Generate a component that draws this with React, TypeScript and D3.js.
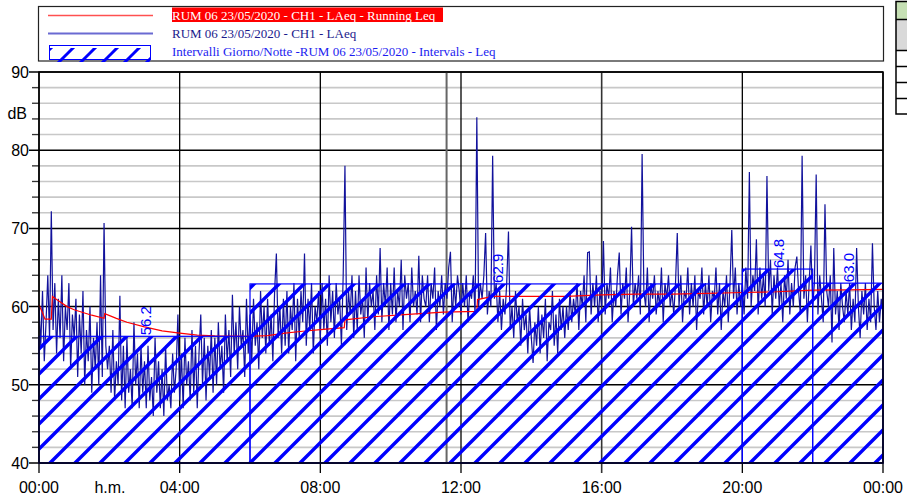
import React, { useEffect, useRef } from 'react';
import * as d3 from 'd3';

// LAeq, one value every 3 minutes from 00:00 to 24:00 (dB)
const laeq = [
  60, 55, 62, 53, 58, 64, 56, 72.2, 57, 63, 54, 61, 56, 64, 53, 60, 57, 63, 52, 59,
  56, 61, 51, 59, 54, 62, 50, 57, 53, 60, 49, 56, 52, 58, 50, 64, 51, 70.7, 55, 52,
  55, 49, 57, 48, 53, 50, 61.4, 48, 55, 47, 56, 49, 52, 47, 58, 50, 54, 47, 55, 49,
  53, 47, 55, 48, 51, 46, 56, 49, 53, 47, 52, 46, 55, 48, 50, 47, 54, 49, 52, 59,
  48, 54, 47, 56, 50, 53, 48, 57, 49, 55, 47, 54, 59, 50, 56, 48, 55, 51, 57, 49,
  56, 50, 58, 52, 55, 49, 59, 53, 57, 51, 61.5, 54, 58, 52, 60, 55, 57, 51, 61, 54,
  59, 53, 61, 55, 58, 52, 62, 56, 60, 54, 61, 55, 59, 53, 62, 66.8, 56, 60, 54, 61,
  55, 62, 54, 60, 57, 63, 53, 61, 56, 62, 58, 66.8, 55, 61, 57, 63, 54, 60, 58, 62,
  56, 63, 57, 61, 55, 64, 58, 62, 56, 63, 59, 61, 55, 64, 78, 57, 62, 59, 64, 56,
  62, 57, 64, 59, 61, 56, 65, 58, 63, 60, 62, 57, 64, 59, 67.5, 58, 63, 60, 65, 57,
  63, 59, 65, 58, 62, 60, 66, 57, 64, 61, 63, 58, 65, 60, 62, 59, 66.5, 58, 64, 61,
  60, 64, 58, 63, 61, 65, 57, 62, 60, 64, 59, 63, 61, 65, 67, 58, 63, 60, 64, 62,
  59, 63, 60, 64, 58, 62, 61, 64, 59, 84.2, 60, 63, 61, 64, 69.4, 59, 62, 60, 79.3, 61,
  63, 58, 62, 57, 61, 59, 63, 69.6, 57, 60, 56, 62, 58, 60, 55, 61, 57, 59, 54, 60,
  56, 52.8, 58, 55, 60, 54, 59, 56, 61, 53, 58, 57, 62, 55, 59, 54, 61, 57, 60, 56,
  60, 57, 62, 58, 61, 59, 63, 57, 62, 60, 64, 58, 66.9, 67, 59, 63, 60, 64, 58, 62,
  60, 68.4, 59, 63, 61, 65, 58, 62, 60, 64, 66.9, 59, 63, 61, 65, 58, 62, 70.2, 60, 63,
  61, 64, 59, 79.5, 62, 60, 65, 58, 63, 61, 64, 59, 62, 60, 65, 58, 63, 61, 64, 60,
  62, 59, 63, 69.4, 60, 64, 58, 62, 61, 65, 59, 63, 60, 64, 57, 62, 61, 65, 59, 63,
  60, 64, 58, 62, 61, 65, 59, 63, 57, 62, 60, 64, 58, 63, 69.8, 61, 65, 59, 63, 60,
  63, 59, 65, 61, 77.2, 60, 64, 62, 68.6, 59, 65, 61, 64, 60, 76.7, 62, 66, 59, 64, 61,
  65, 60, 63, 58, 64, 61, 66, 59, 63, 60, 65, 66.4, 62, 59, 79.3, 61, 64, 58, 63, 67.8,
  60, 63, 76.9, 59, 64, 61, 58, 73.1, 62, 60, 64, 55.4, 67.5, 59, 62, 57, 63, 60, 58, 62,
  59, 63, 57, 61, 58, 67.5, 60, 56, 62, 59, 63, 57, 61, 58, 68.1, 60, 57, 62, 58, 61,
  59,
];

// running Leq
const runHours = [0, 0.1, 0.17, 0.35, 0.38, 0.5, 0.8, 1.0, 1.5, 1.85, 1.87, 2.2, 2.5, 3.0, 3.5, 4.0, 4.5, 5.0, 6.0, 6.5, 7.0, 7.5, 8.0, 8.68, 8.7, 9.5, 10.5, 11.5, 12.45, 12.47, 12.9, 14, 15, 16, 17, 18, 19, 20, 21, 22, 23, 24];
const runLeq = [60.2, 59.2, 58.4, 58.4, 61.3, 60.9, 60.0, 59.6, 58.9, 58.5, 59.1, 58.5, 58.0, 57.4, 56.9, 56.6, 56.35, 56.25, 56.2, 56.3, 56.6, 56.85, 57.05, 57.3, 58.3, 58.7, 59.0, 59.3, 59.4, 60.9, 61.3, 61.3, 61.3, 61.5, 61.6, 61.6, 61.7, 61.8, 61.9, 62.1, 62.15, 62.2];

// day / night intervals
const intervalStart = [0, 6, 20, 22];
const intervalEnd = [6, 20, 22, 24];
const intervalLeq = [56.2, 62.9, 64.8, 63.0];

const xTickHours = [0, 4, 8, 12, 16, 20, 24];
const xTickLabels = ['00:00', '04:00', '08:00', '12:00', '16:00', '20:00', '00:00'];
const yMajor = [40, 50, 60, 70, 80, 90];
const markerHour = 11.59;

const legendLabels = [
  'RUM 06 23/05/2020 - CH1 - LAeq - Running Leq',
  'RUM 06 23/05/2020 - CH1 - LAeq',
  'Intervalli Giorno/Notte -RUM 06 23/05/2020 - Intervals - Leq',
];

const W = 907;
const H = 501;
const SANS = 'Liberation Sans, Arial, sans-serif';
const SERIF = 'Liberation Serif, Times New Roman, serif';

const App = () => {
  const svgRef = useRef<SVGSVGElement>(null);

  useEffect(() => {
    const svg = d3.select(svgRef.current);
    svg.selectAll('*').remove();

    const x = d3.scaleLinear().domain([0, 24]).range([39, 883]);
    const y = d3.scaleLinear().domain([40, 90]).range([463, 72]);

    const defs = svg.append('defs');
    defs
      .append('pattern')
      .attr('id', 'hatch')
      .attr('patternUnits', 'userSpaceOnUse')
      .attr('width', 25)
      .attr('height', 25)
      .append('path')
      .attr('d', 'M-5,18L18,-5M7,31L31,7')
      .attr('stroke', '#0000ff')
      .attr('stroke-width', 3.4);
    defs
      .append('pattern')
      .attr('id', 'hatchLegend')
      .attr('patternUnits', 'userSpaceOnUse')
      .attr('width', 22)
      .attr('height', 22)
      .append('path')
      .attr('d', 'M-5,16L16,-5M6,27L27,6')
      .attr('stroke', '#0000ff')
      .attr('stroke-width', 3);

    // horizontal grid
    const minor = d3.range(40, 91, 2).filter((v) => v % 10 !== 0);
    svg
      .append('g')
      .selectAll('line')
      .data(minor)
      .enter()
      .append('line')
      .attr('x1', 32)
      .attr('x2', x(24))
      .attr('y1', (d) => y(d))
      .attr('y2', (d) => y(d))
      .attr('stroke', '#c8c8c8')
      .attr('stroke-width', 1.6);
    svg
      .append('g')
      .selectAll('line')
      .data(minor)
      .enter()
      .append('line')
      .attr('x1', 32)
      .attr('x2', 39)
      .attr('y1', (d) => y(d))
      .attr('y2', (d) => y(d))
      .attr('stroke', '#333')
      .attr('stroke-width', 1.2);
    svg
      .append('g')
      .selectAll('line')
      .data(yMajor)
      .enter()
      .append('line')
      .attr('x1', 29)
      .attr('x2', x(24))
      .attr('y1', (d) => y(d))
      .attr('y2', (d) => y(d))
      .attr('stroke', '#000')
      .attr('stroke-width', 1.5);

    // vertical grid
    svg
      .append('g')
      .selectAll('line')
      .data(xTickHours)
      .enter()
      .append('line')
      .attr('x1', (d) => x(d))
      .attr('x2', (d) => x(d))
      .attr('y1', y(90))
      .attr('y2', 473)
      .attr('stroke', (d) => (d === 16 ? '#333' : '#000'))
      .attr('stroke-width', (d) => (d === 16 ? 1.6 : 1.3));
    svg
      .append('line')
      .attr('x1', x(markerHour))
      .attr('x2', x(markerHour))
      .attr('y1', y(90))
      .attr('y2', y(40))
      .attr('stroke', '#666')
      .attr('stroke-width', 2);

    // LAeq
    const line = d3
      .line<number>()
      .x((d, i) => x((i * 3) / 60))
      .y((d) => y(d));
    svg
      .append('path')
      .datum(laeq)
      .attr('d', line)
      .attr('fill', 'none')
      .attr('stroke', '#12129c')
      .attr('stroke-width', 1.2);

    // running Leq
    const runLine = d3
      .line<number>()
      .x((d, i) => x(runHours[i]))
      .y((d) => y(d));
    svg
      .append('path')
      .datum(runLeq)
      .attr('d', runLine)
      .attr('fill', 'none')
      .attr('stroke', '#ff0000')
      .attr('stroke-width', 1.2);

    // intervals
    const idx = d3.range(intervalLeq.length);
    svg
      .append('g')
      .selectAll('rect')
      .data(idx)
      .enter()
      .append('rect')
      .attr('x', (i) => x(intervalStart[i]))
      .attr('y', (i) => y(intervalLeq[i]))
      .attr('width', (i) => x(intervalEnd[i]) - x(intervalStart[i]))
      .attr('height', (i) => y(40) - y(intervalLeq[i]))
      .attr('fill', 'url(#hatch)')
      .attr('stroke', '#0000ff')
      .attr('stroke-width', 1.2);
    svg
      .append('g')
      .selectAll('text')
      .data(idx)
      .enter()
      .append('text')
      .attr('transform', (i) => {
        const cx = x((intervalStart[i] + intervalEnd[i]) / 2) + 1;
        const cy = y(intervalLeq[i]) - 1;
        return `translate(${cx},${cy}) rotate(-90)`;
      })
      .attr('dominant-baseline', 'central')
      .attr('font-family', SANS)
      .attr('font-size', 15)
      .attr('fill', '#0000ff')
      .text((i) => intervalLeq[i].toFixed(1));

    // frame
    svg
      .append('rect')
      .attr('x', x(0))
      .attr('y', y(90))
      .attr('width', x(24) - x(0))
      .attr('height', y(40) - y(90))
      .attr('fill', 'none')
      .attr('stroke', '#000')
      .attr('stroke-width', 1.5);

    // axis labels
    svg
      .append('g')
      .selectAll('text')
      .data(yMajor)
      .enter()
      .append('text')
      .attr('x', 29)
      .attr('y', (d) => y(d) + 6)
      .attr('text-anchor', 'end')
      .attr('font-family', SANS)
      .attr('font-size', 16)
      .attr('fill', '#000')
      .text((d) => d);
    svg
      .append('text')
      .attr('x', 27)
      .attr('y', 119)
      .attr('text-anchor', 'end')
      .attr('font-family', SANS)
      .attr('font-size', 16)
      .text('dB');
    svg
      .append('g')
      .selectAll('text')
      .data(xTickHours)
      .enter()
      .append('text')
      .attr('x', (d) => x(d))
      .attr('y', 493)
      .attr('text-anchor', 'middle')
      .attr('font-family', SANS)
      .attr('font-size', 16)
      .text((d, i) => xTickLabels[i]);
    svg
      .append('text')
      .attr('x', 110)
      .attr('y', 493)
      .attr('text-anchor', 'middle')
      .attr('font-family', SANS)
      .attr('font-size', 16)
      .text('h.m.');

    // legend
    const lg = svg.append('g');
    lg.append('rect')
      .attr('x', 38.5)
      .attr('y', 6.5)
      .attr('width', 845)
      .attr('height', 54.5)
      .attr('fill', '#fff')
      .attr('stroke', '#222')
      .attr('stroke-width', 1.2);
    lg.append('line')
      .attr('x1', 48).attr('x2', 153).attr('y1', 15.5).attr('y2', 15.5)
      .attr('stroke', '#ff5050').attr('stroke-width', 1.4);
    lg.append('line')
      .attr('x1', 48).attr('x2', 153).attr('y1', 33.5).attr('y2', 33.5)
      .attr('stroke', '#6a6ad2').attr('stroke-width', 1.8);
    lg.append('rect')
      .attr('x', 49.5).attr('y', 48).attr('width', 101).attr('height', 14)
      .attr('fill', 'url(#hatchLegend)');
    lg.append('rect')
      .attr('x', 49.5).attr('y', 45.5).attr('width', 101).attr('height', 14)
      .attr('fill', 'none').attr('stroke', '#0000ff').attr('stroke-width', 1);
    lg.append('rect')
      .attr('x', 172).attr('y', 7.5).attr('width', 271).attr('height', 14.5)
      .attr('fill', '#ff0000');
    const legendColors = ['#ffffff', '#1a1a8c', '#1c1cf0'];
    lg.selectAll('text.lt')
      .data(legendLabels)
      .enter()
      .append('text')
      .attr('class', 'lt')
      .attr('x', 172)
      .attr('y', (d, i) => 19.5 + i * 18)
      .attr('font-family', SERIF)
      .attr('font-size', 13)
      .attr('fill', (d, i) => legendColors[i])
      .text((d) => d);

    // side table
    const tb = svg.append('g');
    tb.append('rect').attr('x', 896).attr('y', 1.5).attr('width', 20).attr('height', 18).attr('fill', '#c6e0b4');
    tb.append('rect').attr('x', 896).attr('y', 19.5).attr('width', 20).attr('height', 31).attr('fill', '#d9d9d9');
    tb.append('rect')
      .attr('x', 896).attr('y', 1.5).attr('width', 20).attr('height', 112.5)
      .attr('fill', 'none').attr('stroke', '#000').attr('stroke-width', 1.5);
    tb.selectAll('line')
      .data([19.5, 50.5, 66.5, 82.5, 98.5])
      .enter()
      .append('line')
      .attr('x1', 896).attr('x2', 907)
      .attr('y1', (d) => d).attr('y2', (d) => d)
      .attr('stroke', '#000').attr('stroke-width', 1.5);
  }, []);

  return (
    <svg
      ref={svgRef}
      width={W}
      height={H}
      style={{ position: 'absolute', left: 0, top: 0, background: '#fff' }}
    ></svg>
  );
};

export default App;
